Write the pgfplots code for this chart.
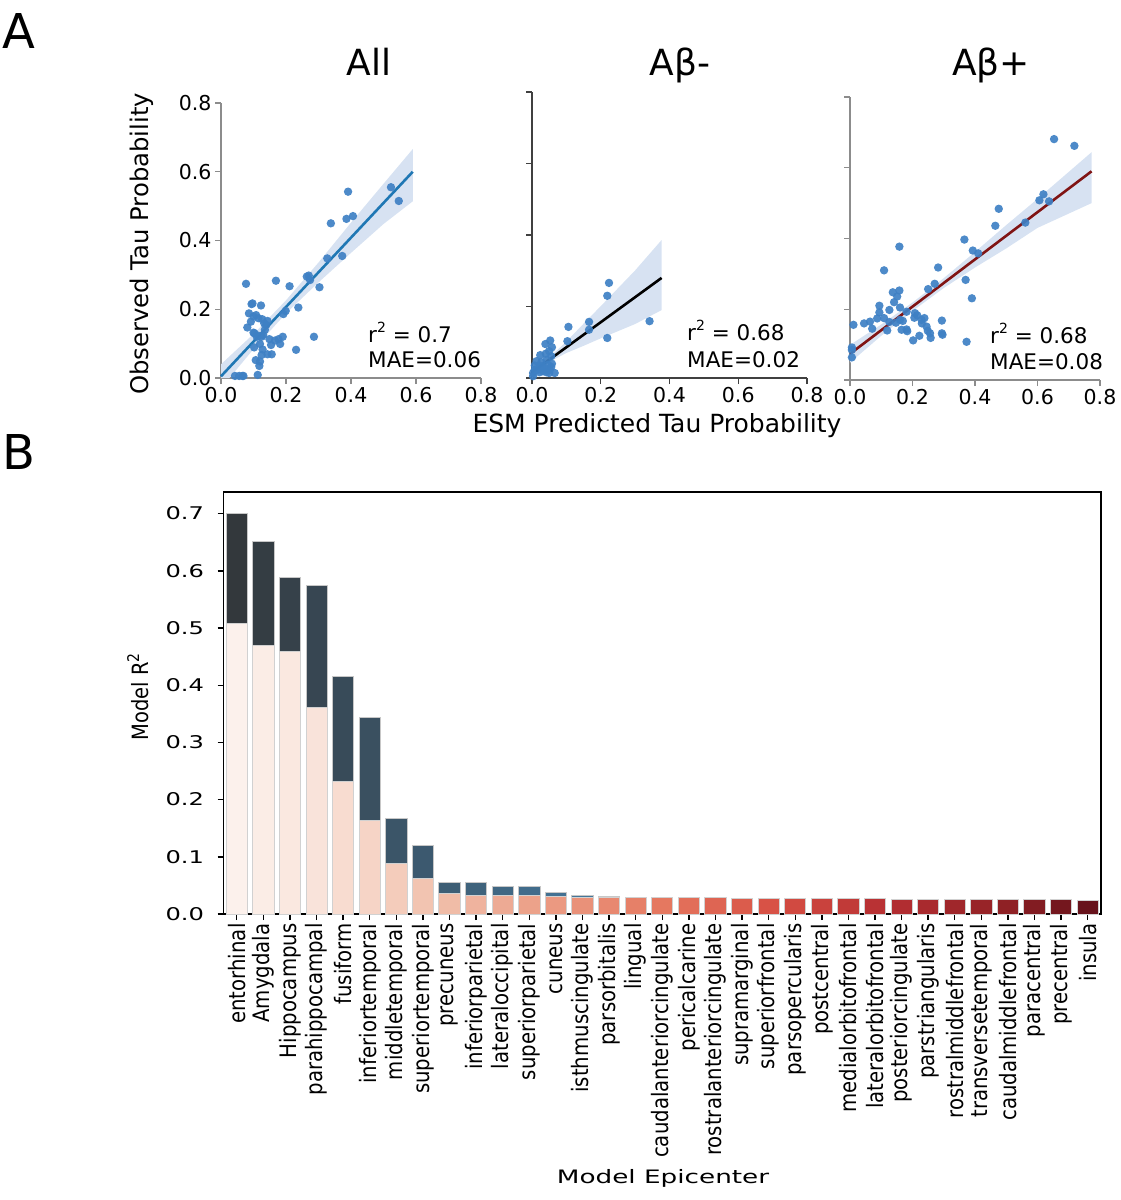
\documentclass[border=0pt]{standalone}
\usepackage{pgfplots}
\pgfplotsset{compat=1.18}
\usepackage{pgfplotstable}
\usepackage{fontspec}
\setmainfont{DejaVu Sans}
\newfontfamily\wideA[FakeStretch=1.38]{DejaVu Sans}
\newfontfamily\wideB[FakeStretch=1.42]{DejaVu Sans}

\definecolor{ptblue}{RGB}{62,128,196}
\definecolor{bandc}{RGB}{215,226,242}
\definecolor{lineblue}{RGB}{31,119,180}
\definecolor{linered}{RGB}{128,20,20}
\definecolor{spine}{RGB}{140,140,140}
\definecolor{r0}{RGB}{253,246,242}
\definecolor{r1}{RGB}{249,226,216}
\definecolor{r2}{RGB}{241,192,172}
\definecolor{r3}{RGB}{235,155,131}
\definecolor{r4}{RGB}{229,120,96}
\definecolor{r5}{RGB}{215,80,68}
\definecolor{r6}{RGB}{181,46,50}
\definecolor{r7}{RGB}{146,34,38}
\definecolor{r8}{RGB}{90,13,23}
\definecolor{d0}{RGB}{51,56,60}
\definecolor{d1}{RGB}{72,132,175}

\newcommand\sq[1]{\raisebox{0.42em}{\fontsize{#1}{#1}\selectfont 2}}

\pgfplotstableread{
idx dark light
0 0.701 0.508
1 0.651 0.470
2 0.588 0.460
3 0.574 0.361
4 0.415 0.232
5 0.344 0.163
6 0.168 0.089
7 0.120 0.062
8 0.056 0.036
9 0.055 0.033
10 0.049 0.032
11 0.048 0.032
12 0.037 0.030
13 0.032 0.029
14 0.030 0.029
15 0 0.0286
16 0 0.0285
17 0 0.0285
18 0 0.0282
19 0 0.0279
20 0 0.0278
21 0 0.0277
22 0 0.0276
23 0 0.0268
24 0 0.0266
25 0 0.0262
26 0 0.0261
27 0 0.0260
28 0 0.0258
29 0 0.0255
30 0 0.0252
31 0 0.0248
32 0 0.0238
}\bardata

\pgfplotsset{
  scat/.style={scale only axis, xmin=0, xmax=0.8, ymin=0, ymax=0.8, clip=false,
    axis lines*=left, axis line style={-, draw=spine, line width=1.2pt},
    tick align=outside, major tick length=6pt, tick style={draw=spine, line width=1.2pt},
    xtick={0,0.2,0.4,0.6,0.8}, ytick={0,0.2,0.4,0.6,0.8},
    scaled ticks=false,
    /pgf/number format/fixed, /pgf/number format/fixed zerofill,
    /pgf/number format/precision=1, /pgf/number format/assume math mode=true,
    tick label style={font=\fontsize{20.5}{24}\selectfont, text=black},
  },
  pts/.style={only marks, color=ptblue, mark=*, mark size=4.2pt, mark options={draw=ptblue, draw opacity=0, fill=ptblue, fill opacity=0.92}},
}

\begin{document}
\begin{tikzpicture}
\useasboundingbox (0,0) rectangle (1120pt,-1200pt);

% ---------------- Panel A: All ----------------
\begin{axis}[scat, at={(221pt,-378pt)}, anchor=south west, width=260pt, height=275pt]
\addplot[fill=bandc, draw=none] coordinates {(0,0.040) (0.1,0.128) (0.2,0.226) (0.3,0.336) (0.4,0.452) (0.5,0.565) (0.59,0.666) (0.59,0.514) (0.5,0.448) (0.4,0.364) (0.3,0.278) (0.2,0.188) (0.1,0.084) (0.026,0) (0,0)};
\addplot[pts] table {
x y
0.043 0.006
0.056 0.006
0.066 0.006
0.069 0.006
0.113 0.009
0.077 0.274
0.169 0.283
0.211 0.267
0.094 0.215
0.097 0.217
0.123 0.211
0.086 0.188
0.092 0.164
0.108 0.183
0.100 0.179
0.115 0.174
0.127 0.171
0.133 0.159
0.139 0.154
0.081 0.147
0.100 0.132
0.103 0.130
0.115 0.123
0.125 0.120
0.130 0.125
0.120 0.099
0.102 0.089
0.128 0.083
0.125 0.067
0.143 0.069
0.156 0.069
0.107 0.052
0.120 0.048
0.118 0.035
0.149 0.113
0.154 0.096
0.166 0.109
0.177 0.113
0.182 0.099
0.190 0.120
0.192 0.186
0.199 0.195
0.238 0.205
0.231 0.082
0.286 0.120
0.264 0.295
0.270 0.298
0.274 0.285
0.303 0.264
0.327 0.348
0.373 0.355
0.338 0.450
0.386 0.463
0.406 0.471
0.391 0.542
0.523 0.555
0.547 0.515
0.143 0.166
0.110 0.120
0.135 0.140
};
\addplot[lineblue, line width=2.6pt] coordinates {(0,0.005) (0.59,0.600)};
\end{axis}

% ---------------- Panel A: Abeta- ----------------
\begin{axis}[scat, at={(532pt,-378pt)}, anchor=south west, width=275pt, height=286pt,
  tick style={draw=black!75, line width=1.2pt}, axis line style={-, draw=black!75, line width=1.2pt},
  yticklabels={}]
\addplot[fill=bandc, draw=none] coordinates {(0,0.032) (0.05,0.057) (0.1,0.102) (0.15,0.152) (0.2,0.201) (0.25,0.251) (0.3,0.301) (0.377,0.386) (0.377,0.190) (0.3,0.151) (0.25,0.131) (0.2,0.111) (0.15,0.090) (0.1,0.070) (0.05,0.045) (0,0.0)};
\addplot[pts] table {
x y
0.224 0.266
0.219 0.230
0.166 0.157
0.166 0.135
0.106 0.143
0.103 0.103
0.219 0.112
0.342 0.159
0.053 0.105
0.039 0.095
0.058 0.086
0.050 0.075
0.024 0.064
0.042 0.051
0.056 0.061
0.013 0.047
0.008 0.035
0.022 0.033
0.037 0.028
0.052 0.023
0.058 0.040
0.047 0.037
0.032 0.019
0.022 0.016
0.066 0.014
0.003 0.014
0.003 0.005
0.042 0.016
0.050 0.014
0.017 0.023
0.027 0.044
0.040 0.068
0.008 0.023
0.030 0.033
0.056 0.031
};
\addplot[black, line width=2.6pt] coordinates {(0,0.016) (0.377,0.280)};
\end{axis}

% ---------------- Panel A: Abeta+ ----------------
\begin{axis}[scat, at={(850pt,-380pt)}, anchor=south west, width=250pt, height=283pt,
  yticklabels={}]
\addplot[fill=bandc, draw=none] coordinates {(0,0.099) (0.1,0.157) (0.2,0.219) (0.3,0.288) (0.4,0.362) (0.5,0.438) (0.6,0.512) (0.773,0.644) (0.773,0.500) (0.6,0.430) (0.5,0.372) (0.4,0.318) (0.3,0.260) (0.2,0.195) (0.1,0.125) (0,0.049)};
\addplot[pts] table {
x y
0.653 0.681
0.718 0.662
0.619 0.525
0.606 0.508
0.637 0.505
0.476 0.484
0.561 0.445
0.465 0.436
0.366 0.397
0.393 0.366
0.410 0.358
0.158 0.377
0.109 0.310
0.282 0.318
0.271 0.272
0.370 0.283
0.250 0.257
0.390 0.231
0.137 0.248
0.158 0.253
0.151 0.236
0.141 0.220
0.160 0.205
0.094 0.210
0.094 0.191
0.126 0.198
0.087 0.174
0.109 0.175
0.064 0.165
0.045 0.160
0.011 0.156
0.071 0.145
0.119 0.140
0.126 0.164
0.147 0.162
0.160 0.170
0.169 0.167
0.165 0.142
0.181 0.143
0.183 0.138
0.181 0.193
0.208 0.189
0.215 0.183
0.206 0.176
0.229 0.170
0.238 0.175
0.230 0.160
0.245 0.151
0.249 0.139
0.256 0.132
0.258 0.119
0.294 0.168
0.294 0.132
0.296 0.128
0.202 0.112
0.222 0.125
0.373 0.108
0.006 0.092
0.006 0.085
0.006 0.064
};
\addplot[linered, line width=2.6pt] coordinates {(0,0.074) (0.773,0.590)};
\end{axis}

% ---------------- Panel B ----------------
\begin{axis}[at={(223.5pt,-914pt)}, anchor=south west, scale only axis, width=877.5pt, height=422pt,
  xmin=-0.5, xmax=32.5, ymin=0, ymax=0.7378,
  axis line style={line width=1.4pt}, tick align=outside, major tick length=6pt,
  tick style={line width=1.4pt, black}, tick pos=left,
  xtick={0,...,32},
  xticklabels={entorhinal,Amygdala,Hippocampus,parahippocampal,fusiform,inferiortemporal,middletemporal,superiortemporal,precuneus,inferiorparietal,lateraloccipital,superiorparietal,cuneus,isthmuscingulate,parsorbitalis,lingual,caudalanteriorcingulate,pericalcarine,rostralanteriorcingulate,supramarginal,superiorfrontal,parsopercularis,postcentral,medialorbitofrontal,lateralorbitofrontal,posteriorcingulate,parstriangularis,rostralmiddlefrontal,transversetemporal,caudalmiddlefrontal,paracentral,precentral,insula},
  ytick={0,0.1,0.2,0.3,0.4,0.5,0.6,0.7},
  scaled ticks=false,
  /pgf/number format/fixed, /pgf/number format/fixed zerofill,
  /pgf/number format/precision=1, /pgf/number format/assume math mode=true,
  x tick label style={rotate=90, anchor=east, yscale=1.15, font=\fontsize{19.7}{22}\selectfont},
  y tick label style={xshift=-10pt, font=\wideA\fontsize{17.5}{21}\selectfont},
]
\foreach \i/\p in {0/0,1/6,2/12,3/19,4/25,5/31,6/38,7/44,8/50,9/56,10/62,11/69,12/75,13/81,14/88}{
  \edef\temp{\noexpand\addplot[ybar, bar width=0.8, bar shift=0pt, draw=black!22, line width=0.8pt, fill=d1!\p!d0, restrict x to domain=\i:\i] table[x=idx, y=dark] {\noexpand\bardata};}
  \temp
}
\foreach \i/\a/\b/\p in {0/1/0/24, 1/1/0/47, 2/1/0/71, 3/1/0/94, 4/2/1/18, 5/2/1/41, 6/2/1/65, 7/2/1/88, 8/3/2/12, 9/3/2/35, 10/3/2/59, 11/3/2/82, 12/4/3/6, 13/4/3/29, 14/4/3/53, 15/4/3/76, 16/4/3/100, 17/5/4/24, 18/5/4/47, 19/5/4/71, 20/5/4/94, 21/6/5/18, 22/6/5/41, 23/6/5/65, 24/6/5/88, 25/7/6/12, 26/7/6/35, 27/7/6/59, 28/7/6/82, 29/8/7/6, 30/8/7/29, 31/8/7/53, 32/8/7/76}{
  \edef\temp{\noexpand\addplot[ybar, bar width=0.8, bar shift=0pt, draw=black!18, line width=0.8pt, fill=r\a!\p!r\b, restrict x to domain=\i:\i] table[x=idx, y=light] {\noexpand\bardata};}
  \temp
}
\end{axis}

% ---------------- Text ----------------
\node[font=\fontsize{48}{56}\selectfont, anchor=base west, inner sep=0pt] at (2pt,-48pt) {A};
\node[font=\fontsize{48}{56}\selectfont, anchor=base west, inner sep=0pt] at (2pt,-469pt) {B};
\node[font=\fontsize{36}{43}\selectfont, anchor=base, inner sep=0pt] at (369pt,-75pt) {All};
\node[font=\fontsize{36}{43}\selectfont, anchor=base, inner sep=0pt] at (680pt,-75pt) {Aβ-};
\node[font=\fontsize{36}{43}\selectfont, anchor=base, inner sep=0pt] at (991pt,-75pt) {Aβ+};
\node[rotate=90, font=\fontsize{24.3}{28}\selectfont, inner sep=0pt] at (142pt,-244pt) {Observed Tau Probability};
\node[font=\fontsize{25}{29}\selectfont, inner sep=0pt] at (657pt,-426pt) {ESM Predicted Tau Probability};
\node[anchor=base west, inner sep=0pt, font=\fontsize{21.5}{26}\selectfont] at (368pt,-342pt) {r\sq{14} = 0.7};
\node[anchor=base west, inner sep=0pt, font=\fontsize{21.5}{26}\selectfont] at (368pt,-367pt) {MAE=0.06};
\node[anchor=base west, inner sep=0pt, font=\fontsize{21.5}{26}\selectfont] at (687pt,-340pt) {r\sq{14} = 0.68};
\node[anchor=base west, inner sep=0pt, font=\fontsize{21.5}{26}\selectfont] at (687pt,-367pt) {MAE=0.02};
\node[anchor=base west, inner sep=0pt, font=\fontsize{21.5}{26}\selectfont] at (990pt,-343pt) {r\sq{14} = 0.68};
\node[anchor=base west, inner sep=0pt, font=\fontsize{21.5}{26}\selectfont] at (990pt,-369pt) {MAE=0.08};
\node[rotate=90, yscale=1.15, font=\fontsize{19.5}{23}\selectfont, inner sep=0pt] at (138pt,-697pt) {Model R\sq{14}};
\node[anchor=base, font=\wideB\fontsize{18.5}{22}\selectfont, inner sep=0pt] at (663pt,-1183pt) {Model Epicenter};
\end{tikzpicture}
\end{document}
